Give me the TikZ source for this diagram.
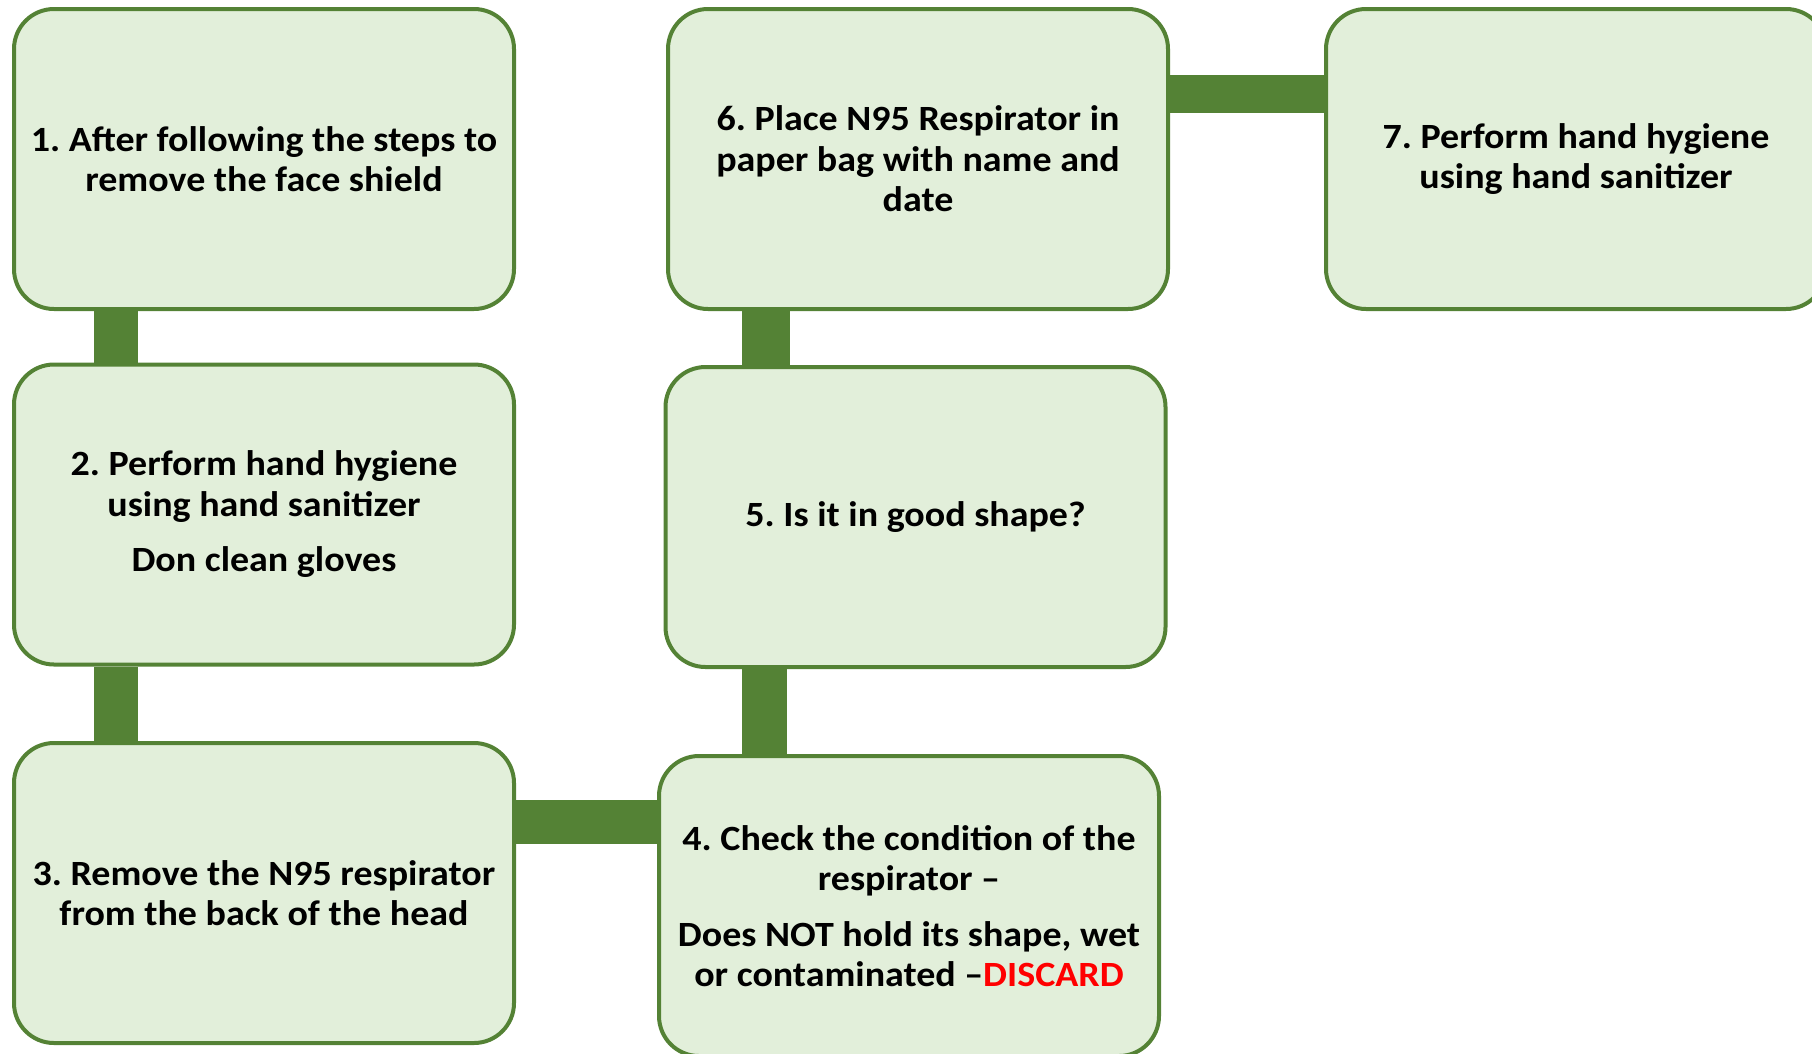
\documentclass[tikz,border=0pt]{standalone}
\usepackage{fontspec}
\setmainfont[FakeStretch=1.07]{Carlito}
\usetikzlibrary{backgrounds}
\definecolor{stepgreen}{HTML}{548235}
\definecolor{stepfill}{HTML}{E2EFDA}
\frenchspacing
\begin{document}
\begin{tikzpicture}[x=1pt, y=-1pt,
  stepbox/.style={draw=stepgreen, fill=stepfill, line width=4pt, rounded corners=40pt,
    minimum width=500pt, minimum height=300pt, align=center,
    font=\fontsize{35.5}{40.5}\selectfont\bfseries},
  bar/.style={draw=stepgreen, line width=44pt}]
  \useasboundingbox (0,0) rectangle (1812,1053);
  \node[stepbox] (s1) at (264,159) {1. After following the steps to\\ remove the face shield};
  \node[stepbox] (s2) at (264,514.5) {2. Perform hand hygiene\\ using hand sanitizer\\[15pt] Don clean gloves};
  \node[stepbox] (s3) at (264,893) {3. Remove the N95 respirator\\ from the back of the head};
  \node[stepbox] (s4) at (909,906) {4. Check the condition of the\\ respirator --\\[15pt] Does NOT hold its shape, wet\\ or contaminated --\textcolor{red}{DISCARD}};
  \node[stepbox] (s5) at (915.5,517) {5. Is it in good shape?};
  \node[stepbox] (s6) at (918,159) {6. Place N95 Respirator in\\ paper bag with name and\\ date};
  \node[stepbox] (s7) at (1576,159) {7. Perform hand hygiene\\ using hand sanitizer};
  \begin{scope}[on background layer]
    \draw[bar] (s1.south -| 116,0) -- (s2.north -| 116,0);
    \draw[bar] (s2.south -| 116,0) -- (s3.north -| 116,0);
    \draw[bar] (s3.east |- 0,822) -- (s4.west |- 0,822);
    \draw[bar, line width=45pt] (s4.north -| 764,0) -- (s5.south -| 764,0);
    \draw[bar, line width=48pt] (s5.north -| 765.5,0) -- (s6.south -| 765.5,0);
    \draw[bar, line width=38pt] (s6.east |- 0,94) -- (s7.west |- 0,94);
  \end{scope}
\end{tikzpicture}
\end{document}
